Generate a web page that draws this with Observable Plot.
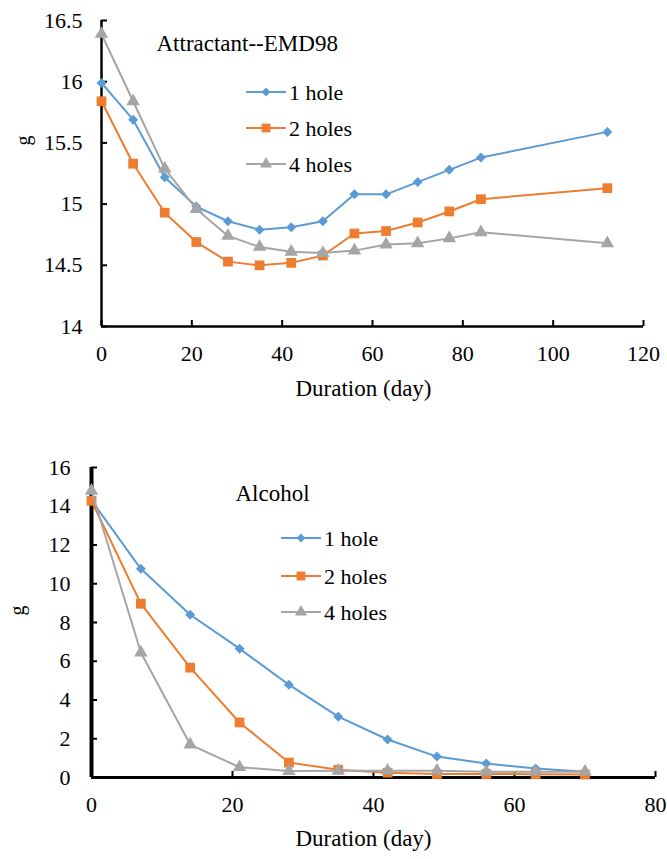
<!DOCTYPE html>
<html>
<head>
<meta charset="utf-8">
<script src="https://cdn.jsdelivr.net/npm/d3@7"></script>
<script src="https://cdn.jsdelivr.net/npm/@observablehq/plot@0.6"></script>
<style>
  html, body { margin: 0; padding: 0; background: #fff; }
  #wrap { width: 667px; }
  svg { display: block; }
</style>
</head>
<body>
<div id="wrap"></div>
<script>
// ---------- data ----------
const seriesNames = ["1 hole", "2 holes", "4 holes"];
const seriesColors = ["#5B9BD5", "#ED7D31", "#A5A5A5"];
const seriesSymbols = ["diamond2", "square", "triangle"];

const attrTitle = "Attractant--EMD98";
const attrDays = [0, 7, 14, 21, 28, 35, 42, 49, 56, 63, 70, 77, 84, 112];
const attr1 = [15.99, 15.69, 15.22, 14.98, 14.86, 14.79, 14.81, 14.86, 15.08, 15.08, 15.18, 15.28, 15.38, 15.59];
const attr2 = [15.84, 15.33, 14.93, 14.69, 14.53, 14.50, 14.52, 14.58, 14.76, 14.78, 14.85, 14.94, 15.04, 15.13];
const attr4 = [16.39, 15.84, 15.29, 14.96, 14.74, 14.65, 14.61, 14.60, 14.62, 14.67, 14.68, 14.72, 14.77, 14.68];
const attrXTicks = [0, 20, 40, 60, 80, 100, 120];
const attrYTicks = [14, 14.5, 15, 15.5, 16, 16.5];

const alcTitle = "Alcohol";
const alcDays = [0, 7, 14, 21, 28, 35, 42, 49, 56, 63, 70];
const alc1 = [14.3, 10.77, 8.4, 6.65, 4.79, 3.14, 1.96, 1.08, 0.72, 0.46, 0.3];
const alc2 = [14.28, 8.97, 5.67, 2.84, 0.77, 0.4, 0.25, 0.18, 0.18, 0.17, 0.15];
const alc4 = [14.8, 6.45, 1.7, 0.53, 0.33, 0.35, 0.35, 0.35, 0.3, 0.3, 0.3];
const alcXTicks = [0, 20, 40, 60, 80];
const alcYTicks = [0, 2, 4, 6, 8, 10, 12, 14, 16];

const xLabel = "Duration (day)";
const yLabel = "g";

const FONT = "Liberation Serif";

function makeChart(cfg) {
  const rowsPer = cfg.values.map((vals, k) =>
    cfg.days.map((d, i) => ({day: d, v: vals[i], name: seriesNames[k]})));
  const marks = [
    Plot.ruleY([cfg.yTicks[0]], {stroke: "#000", strokeWidth: cfg.xAxisW}),
    Plot.ruleX([cfg.xTicks[0]], {stroke: "#000", strokeWidth: cfg.yAxisW}),
    Plot.axisX(cfg.xTicks, {tickSize: -6, tickPadding: 25, strokeWidth: 2, tickFormat: d => String(d), label: null, fill: "#000", fontSize: 22}),
    Plot.axisY(cfg.yTicks, {tickSize: -6, tickPadding: cfg.yPad, strokeWidth: 2, tickFormat: d => String(d), label: null, fill: "#000", fontSize: 22}),
  ];
  rowsPer.forEach((rows, k) => {
    marks.push(Plot.line(rows, {x: "day", y: "v", stroke: seriesColors[k], strokeWidth: 2}));
    marks.push(Plot.dot(rows, {x: "day", y: "v", fill: seriesColors[k], symbol: () => seriesSymbols[k], r: cfg.r[k], stroke: "none"}));
  });
  marks.push(Plot.text([xLabel], {text: d => d, frameAnchor: "bottom", dx: cfg.xLabelDx, dy: cfg.xLabelDy, fontSize: 23, fill: "#000"}));
  marks.push(Plot.text([yLabel], {text: d => d, frameAnchor: "left", dx: cfg.yLabelDx, dy: cfg.yLabelDy, rotate: -90, fontSize: 20, fill: "#000"}));
  marks.push(Plot.text([cfg.title], {text: d => d, frameAnchor: "top-left", textAnchor: "start", dx: cfg.titleDx, dy: cfg.titleDy, fontSize: 23, fill: "#000"}));

  const svg = Plot.plot({
    width: 667,
    height: cfg.height,
    marginLeft: cfg.ml, marginRight: cfg.mr, marginTop: cfg.mt, marginBottom: cfg.mb,
    style: {fontFamily: FONT, fontSize: "22px", color: "#000", background: "#fff"},
    x: {domain: [cfg.xTicks[0], cfg.xTicks[cfg.xTicks.length - 1]]},
    y: {domain: [cfg.yTicks[0], cfg.yTicks[cfg.yTicks.length - 1]]},
    marks
  });

  // legend
  const g = d3.select(svg).append("g").attr("font-family", FONT).attr("font-size", 22).attr("text-anchor", "start");
  seriesNames.forEach((name, k) => {
    const y = cfg.legY[k];
    g.append("line").attr("x1", cfg.legX).attr("x2", cfg.legX + cfg.legLen)
      .attr("y1", y).attr("y2", y).attr("stroke", seriesColors[k]).attr("stroke-width", 2);
    const sym = [d3.symbolDiamond2, d3.symbolSquare, d3.symbolTriangle][k];
    g.append("path").attr("d", d3.symbol(sym, Math.PI * cfg.lr[k] * cfg.lr[k])())
      .attr("transform", `translate(${cfg.legX + cfg.legLen / 2},${y})`).attr("fill", seriesColors[k]);
    g.append("text").attr("x", cfg.legX + cfg.legLen + 3).attr("y", y).attr("dy", "0.35em")
      .attr("text-anchor", "start").attr("fill", "#000").text(name);
  });
  return svg;
}

const wrap = document.getElementById("wrap");
wrap.appendChild(makeChart({
  days: attrDays, values: [attr1, attr2, attr4], xTicks: attrXTicks, yTicks: attrYTicks,
  height: 420, ml: 101, mr: 24, mt: 20, mb: 94,
  xAxisW: 2.5, yAxisW: 2.5, yPad: 25, r: [4.5, 5.5, 5], lr: [4, 5, 4.5],
  xLabelDx: -9, xLabelDy: 69, yLabelDx: -78, yLabelDy: -28,
  title: attrTitle, titleDx: 55, titleDy: 14,
  legX: 246, legY: [92, 128, 164], legLen: 40
}));
wrap.appendChild(makeChart({
  days: alcDays, values: [alc1, alc2, alc4], xTicks: alcXTicks, yTicks: alcYTicks,
  height: 439, ml: 91, mr: 12, mt: 47, mb: 82,
  xAxisW: 3, yAxisW: 4, yPad: 27, r: [4.5, 5.5, 5], lr: [4, 5, 4.5],
  xLabelDx: -10, xLabelDy: 68, yLabelDx: -74, yLabelDy: -7,
  title: alcTitle, titleDx: 144, titleDy: 17,
  legX: 281, legY: [118, 156, 192], legLen: 40
}));
</script>
</body>
</html>
